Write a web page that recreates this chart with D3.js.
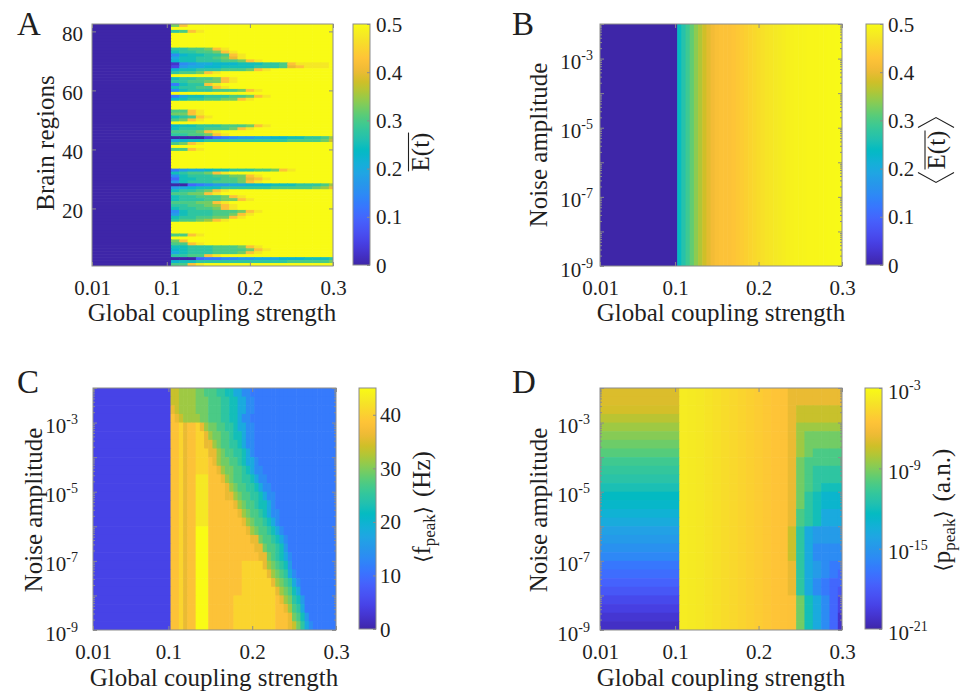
<!DOCTYPE html>
<html>
<head>
<meta charset="utf-8">
<script src="https://cdn.jsdelivr.net/npm/d3@7"></script>
<style>
  body { margin: 0; background: #fff; }
</style>
</head>
<body>
<script>
// ---------------- data ----------------

// coupling strength sample points (cell centres)
const couplingCoarse = [0.11, 0.12, 0.13, 0.14, 0.15, 0.16, 0.17, 0.18, 0.19, 0.20,
  0.21, 0.22, 0.23, 0.24, 0.25, 0.26, 0.27, 0.28, 0.29, 0.30];
const couplingFine = [0.105, 0.11, 0.115, 0.12, 0.125, 0.13, 0.135, 0.14, 0.145, 0.15,
  0.155, 0.16, 0.165, 0.17, 0.175, 0.18, 0.185, 0.19, 0.195, 0.2,
  0.205, 0.21, 0.215, 0.22, 0.225, 0.23, 0.235, 0.24, 0.245, 0.25,
  0.255, 0.26, 0.265, 0.27, 0.275, 0.28, 0.285, 0.29, 0.295, 0.3];

// log10(noise amplitude) row edges, top to bottom
const noiseEdges = [-2, -2.25, -2.5, -2.75, -3, -3.25, -3.5, -3.75, -4, -4.25, -4.5, -4.75,
  -5, -5.25, -5.5, -5.75, -6, -6.25, -6.5, -6.75, -7, -7.25, -7.5, -7.75,
  -8, -8.25, -8.5, -8.75, -9];

// levels: one char per cell, "0".."k" = 0..20 twentieths of the colour range;
// the last char of a string repeats to the end of the row.
// Below threshold (g < 0.1) every panel has one value per row.

// A: mean activity per brain region (region 82 at top ... region 1 at bottom)
const leftA = 0;
const regionRows = [
  "dhk", "k", "bchjk", "k", "k", "k", "k", "k",
  "bbccdhjk", "abbccdhjk", "69aabbchjk", "8aabbcdgjk", "9aabbbccdhjk",
  "16788999aaabbchjjjjk", "278899aaaabbbcghjjjk", "9aabbbcccdhjk",
  "bccdhjk", "k", "abbccdhjk", "bbccddhjk", "5abbhjk", "abbcchjk",
  "6abbbcccdhjk", "k", "58aabbbccdhjk", "9abbccddhjk", "k", "k", "k",
  "cchjk", "ddhjk", "abchjk", "cdhjk", "k", "9aabbbcccdhjk", "abbbcccdhjk",
  "cccdhjk", "bbccdhjk", "00002456778899aabbce", "89aabbbbbbbbbbccccdf",
  "cdhjk", "k", "cchjk", "k", "k", "k", "k", "k", "k",
  "57889aabbbccdhjk", "abccdhjk", "6abbbccddhjk", "4aabbbccdghjk",
  "7abbbcccdhjk", "004567788999aaabbbce", "789aaabbbbbbcccccdeg",
  "abbcdhjk", "ccddhjk", "abbcccdhjk", "abbbccddhjk", "cccddhjk",
  "bbccdehjk", "abbccdhjk", "6abbbcccdhjk", "7abbbccdhjk", "abbccddhjk",
  "bccdehjk", "k", "k", "k", "k", "cchjk", "k", "dhk", "cchjk",
  "aabbbcccdhjk", "9abbbccccdhjk", "8abbbcccdhjk", "bbcchjk",
  "0004556677888999aaab", "9aabbbbbbbbbbbcccccd", "cchjk"
];

// B: network mean activity per coupling (same for every noise amplitude)
const leftB = 0;
const meanEB = [0.24, 0.265, 0.29, 0.315, 0.34, 0.36, 0.38, 0.395, 0.41, 0.42,
  0.425, 0.425, 0.425, 0.43, 0.435, 0.44, 0.445, 0.45, 0.455, 0.46,
  0.465, 0.47, 0.473, 0.476, 0.479, 0.482, 0.485, 0.487, 0.489, 0.49,
  0.491, 0.492, 0.493, 0.494, 0.495, 0.495, 0.496, 0.496, 0.497, 0.497];

// C: peak frequency, rows top (1e-2) to bottom (1e-9), fine coupling grid
const leftC = "2222222222222222222222222222";
const fpeakRows = [
  "ffeeeeddcccbbaa88665",
  "ffeeeedddcccbbaa88665",
  "gfeeeedddcccbbaa88665",
  "hgfeeeeddcccbbaa8665",
  "hhighhigeddccbba88665",
  "hhighhiigeddccbaa8665",
  "hhighhiiggedccbba8665",
  "hhighhiiiggedccbba865",
  "hhighhiiihgeddccba8865",
  "hhighhiiihhgeddccba8665",
  "hhighhjjjhhhgedccbba8665",
  "hhighhjjjhhhhgedccbba8665",
  "hhighhjjjhhhhggedccbba8665",
  "hhighhjjjhhhhhhgedccbaa865",
  "hhighhjjjhhhhhhhgedccba8665",
  "hhighhjjjhhhhhhhhgedccba865",
  "hhighhkkkhhhhhhhhhgedccba865",
  "hhighhkkkhhhhhhhhhhggdccba865",
  "hhighhkkkhhhhhhhhhhhggdccba75",
  "hhighhkkkhhhhhhhhhhhhggdcba865",
  "hhighhkkkhhhhhhhhiiiiigedcba75",
  "hhighhkkkhhhhhhhhiiiiiigedcb865",
  "hhighhkkkhhhhhhhhiiiiiiigedcb865",
  "hhighhkkkhhhhhhhhiiiiiiiigedca85",
  "hhighhkkkhhhhhhiiiiiiiiiihgedba75",
  "hhighhkkkhhhhhhiiiiiiiiiihhgecb85",
  "hhighhkkkhhhhhhiiiiiiiiiihhhgdca75",
  "hhighhkkkhhhhhhiiiiiiiiiihhhgfdb865"
];

// D: peak power, log10 values. Below threshold, one value per noise row (top to bottom)
const ppeakLeft = [-7.0, -7.0, -7.2, -7.8, -8.4, -8.9, -9.4, -9.9, -10.5, -10.9, -11.3, -11.8,
  -12.4, -12.7, -13.2, -13.7, -14.4, -14.8, -15.3, -15.8, -16.6, -17.1, -17.6, -18.2,
  -18.9, -19.4, -19.9, -20.3];
// oscillating range 0.11 .. 0.23: same for all noise amplitudes
const ppeakMid = [-3.72, -3.81, -3.9, -4.08, -4.26, -4.44, -4.62, -4.8, -4.98, -5.16,
  -5.34, -5.52, -5.61];
// 0.24 .. 0.30, level chars per noise row (top to bottom)
const ppeakRight = [
  "ggggggg", "ggggggg", "gffffff", "gffffff", "geeeeee", "geddddd", "geddddd",
  "gedcccc", "gdccccc", "gdcbbbb", "gdcbbbb", "gdcbaaa", "gdba999", "gdba999",
  "gcba888", "gcba888", "fb87777", "fb87777", "fb86666", "fb86666", "gb87655",
  "gb87654", "gb86544", "gb86543", "hda8642", "hda8642", "hda8641", "hda8641"
];

// tick labels
const couplingTicks = [0.01, 0.1, 0.2, 0.3];
const regionTicks = [20, 40, 60, 80];
const noiseLabelTicks = [1e-9, 1e-7, 1e-5, 1e-3];
const cbTicksE = [0, 0.1, 0.2, 0.3, 0.4, 0.5];
const cbTicksF = [0, 10, 20, 30, 40];
const cbTicksP = [1e-21, 1e-15, 1e-9, 1e-3];

// MATLAB parula, evenly spaced stops
const parulaStops = ["#3e26a8", "#4432cb", "#4741e5", "#4852f4", "#4563fd", "#3875fe",
  "#2e87f7", "#2796eb", "#20a5e3", "#12b1d6", "#02bac3", "#24c1ae", "#37c897",
  "#57cc7a", "#81cc59", "#abc739", "#d1bf27", "#f0ba36", "#fec338", "#fad62d",
  "#f5e924", "#f9fb15"];

// ---------------- drawing ----------------
const SERIF = '"Liberation Serif", "Times New Roman", serif';
const AX = "#8c8c8c", TXT = "#1f1f1f";
const parula = d3.piecewise(d3.interpolateRgb, parulaStops);
const LEVELS = "0123456789abcdefghijk";
const level = ch => LEVELS.indexOf(ch) / 20;
const at = (s, j) => s[Math.min(j, s.length - 1)];

const svg = d3.select("body").append("svg")
  .attr("width", 964).attr("height", 692)
  .style("font-family", SERIF);
const defs = svg.append("defs");

function colSpans(centres) {
  const step = centres[1] - centres[0];
  return centres.map(c => [Math.max(0.01, c - step / 2), Math.min(0.3, c + step / 2)]);
}

// build cell lists
const colsC = colSpans(couplingCoarse), colsF = colSpans(couplingFine);

const cellsA = [];
regionRows.forEach((s, i) => {
  const r = 82 - i;
  cellsA.push({ x0: 0.01, x1: colsC[0][0], y0: r - 0.5, y1: r + 0.5, v: leftA });
  colsC.forEach(([x0, x1], j) => cellsA.push({ x0, x1, y0: r - 0.5, y1: r + 0.5, v: 0.5 * level(at(s, j)) }));
});

const cellsB = [{ x0: 0.01, x1: colsF[0][0], y0: 1e-9, y1: 1e-2, v: leftB }];
colsF.forEach(([x0, x1], j) => cellsB.push({ x0, x1, y0: 1e-9, y1: 1e-2, v: meanEB[j] }));

const cellsC = [];
fpeakRows.forEach((s, i) => {
  const y1 = Math.pow(10, noiseEdges[i]), y0 = Math.pow(10, noiseEdges[i + 1]);
  cellsC.push({ x0: 0.01, x1: colsF[0][0], y0, y1, v: 45 * level(leftC[i]) });
  colsF.forEach(([x0, x1], j) => cellsC.push({ x0, x1, y0, y1, v: 45 * level(at(s, j)) }));
});

const cellsD = [];
ppeakRight.forEach((s, i) => {
  const y1 = Math.pow(10, noiseEdges[i]), y0 = Math.pow(10, noiseEdges[i + 1]);
  cellsD.push({ x0: 0.01, x1: colsC[0][0], y0, y1, v: Math.pow(10, ppeakLeft[i]) });
  colsC.forEach(([x0, x1], j) => {
    const e = j < ppeakMid.length ? ppeakMid[j] : -21 + 18 * level(at(s, j - ppeakMid.length));
    cellsD.push({ x0, x1, y0, y1, v: Math.pow(10, e) });
  });
});

function styleAxis(g) {
  g.attr("font-family", null).attr("font-size", null);
  g.select(".domain").remove();
  g.selectAll(".tick line").attr("stroke", AX);
  g.selectAll(".tick text").attr("fill", TXT).attr("font-size", 21);
}

function powLabels(g, dy) {
  g.selectAll(".tick text").each(function (d) {
    const t = d3.select(this).text(null).attr("dy", dy);
    t.append("tspan").text("10");
    t.append("tspan").attr("font-size", 14).attr("dy", -9).text(Math.round(Math.log10(d)));
  });
}

function panel(o) {
  const g = svg.append("g").attr("transform", `translate(${o.left},${o.top})`);
  const x = d3.scaleLinear().domain([0.01, 0.3]).range([0, o.w]);
  const y = o.y.range([o.h, 0]);
  const c = o.cscale.copy().range([0, 1]).clamp(true);

  defs.append("clipPath").attr("id", "clip" + o.name)
    .append("rect").attr("width", o.w).attr("height", o.h);
  g.append("g").attr("clip-path", `url(#clip${o.name})`)
    .selectAll("rect").data(o.cells).join("rect")
    .attr("x", d => x(d.x0))
    .attr("width", d => x(d.x1) - x(d.x0) + 0.6)
    .attr("y", d => y(d.y1))
    .attr("height", d => y(d.y0) - y(d.y1) + 0.6)
    .attr("fill", d => parula(c(d.v)));

  // x axes (bottom labelled, top mirrored)
  g.append("g").attr("transform", `translate(0,${o.h})`)
    .call(d3.axisBottom(x).tickValues(couplingTicks).tickSizeInner(-4).tickSizeOuter(0)
      .tickPadding(14).tickFormat(d => d === 0.01 ? "0.01" : d3.format(".1f")(d)))
    .call(styleAxis);
  g.append("g")
    .call(d3.axisTop(x).tickValues(couplingTicks).tickSizeInner(-4).tickSizeOuter(0).tickFormat(""))
    .call(styleAxis);

  // y axes
  if (o.log) {
    const major = d3.range(-9, -1).map(e => Math.pow(10, e));
    const minor = [];
    d3.range(-9, -2).forEach(e => d3.range(2, 10).forEach(k => minor.push(k * Math.pow(10, e))));
    g.append("g")
      .call(d3.axisLeft(y).tickValues(noiseLabelTicks).tickSizeInner(0).tickSizeOuter(0).tickPadding(o.ypad))
      .call(styleAxis).call(g2 => powLabels(g2, 10));
    [[0, d3.axisLeft], [o.w, d3.axisRight]].forEach(([tx, ax]) => {
      g.append("g").attr("transform", `translate(${tx},0)`)
        .call(ax(y).tickValues(major).tickSizeInner(-4).tickSizeOuter(0).tickFormat(""))
        .call(styleAxis);
      g.append("g").attr("transform", `translate(${tx},0)`)
        .call(ax(y).tickValues(minor).tickSizeInner(-2).tickSizeOuter(0).tickFormat(""))
        .call(styleAxis);
    });
  } else {
    g.append("g")
      .call(d3.axisLeft(y).tickValues(regionTicks).tickSizeInner(-4).tickSizeOuter(0).tickPadding(o.ypad))
      .call(styleAxis).call(g2 => g2.selectAll(".tick text").attr("dy", 9));
    g.append("g").attr("transform", `translate(${o.w},0)`)
      .call(d3.axisRight(y).tickValues(regionTicks).tickSizeInner(-4).tickSizeOuter(0).tickFormat(""))
      .call(styleAxis);
  }

  g.append("rect").attr("width", o.w).attr("height", o.h)
    .attr("fill", "none").attr("stroke", AX).attr("stroke-width", 1);

  // colour bar
  const gid = "grad" + o.name;
  const grad = defs.append("linearGradient").attr("id", gid)
    .attr("x1", 0).attr("y1", 1).attr("x2", 0).attr("y2", 0);
  d3.range(0, 1.0001, 0.02).forEach(t => grad.append("stop").attr("offset", t).attr("stop-color", parula(t)));
  const cb = svg.append("g").attr("transform", `translate(${o.cbx},${o.top})`);
  cb.append("rect").attr("width", 17).attr("height", o.cbh).attr("fill", `url(#${gid})`)
    .attr("stroke", AX).attr("stroke-width", 1);
  const cy = o.cscale.copy().range([o.cbh, 0]);
  const cax = cb.append("g").attr("transform", "translate(17,0)")
    .call(d3.axisRight(cy).tickValues(o.cbTicks).tickSizeInner(-3).tickSizeOuter(0)
      .tickPadding(o.cbpad).tickFormat(d => String(d)))
    .call(styleAxis);
  if (o.cbLog) powLabels(cax, 10); else cax.selectAll(".tick text").attr("dy", 7);

  // texts
  svg.append("text").attr("x", o.letter[0]).attr("y", o.letter[1])
    .attr("font-size", 33).attr("fill", TXT).text(o.name);
  svg.append("text").attr("transform", `translate(${o.ytitle[0]},${o.ytitle[1]}) rotate(-90)`)
    .attr("text-anchor", "middle").attr("font-size", 25).attr("fill", TXT).text(o.ylab);
  svg.append("text").attr("x", o.xtitle[0]).attr("y", o.xtitle[1])
    .attr("text-anchor", "middle").attr("font-size", 25).attr("fill", TXT).text("Global coupling strength");

  const lab = svg.append("g").attr("transform", `translate(${o.cblab[0]},${o.cblab[1]}) rotate(-90)`);
  o.drawLabel(lab);
}

function overlineE(g, brackets) {
  const t = g.append("text").attr("text-anchor", "middle").attr("font-size", 25).attr("fill", TXT).text("E(t)");
  const hw = t.node().getComputedTextLength() / 2;
  g.append("line").attr("x1", -hw).attr("x2", hw).attr("y1", -20).attr("y2", -20)
    .attr("stroke", TXT).attr("stroke-width", 1.1);
  if (brackets) {
    const br = s => [[s * (hw + 3), -27], [s * (hw + 13), -9], [s * (hw + 3), 9]];
    [-1, 1].forEach(s => g.append("polyline").attr("points", br(s).join(" "))
      .attr("fill", "none").attr("stroke", TXT).attr("stroke-width", 1.1));
  }
}

function peakLabel(g, sym, unit) {
  const t = g.append("text").attr("text-anchor", "middle").attr("font-size", 25).attr("fill", TXT);
  t.append("tspan").attr("font-family", "DejaVu Serif, DejaVu Sans").attr("font-size", 21).text("\u27E8");
  t.append("tspan").text(sym);
  t.append("tspan").attr("font-size", 17).attr("dy", 5).text("peak");
  t.append("tspan").attr("font-family", "DejaVu Serif, DejaVu Sans").attr("font-size", 21).attr("dy", -5).text("\u27E9");
  t.append("tspan").attr("dx", 9).text(unit);
}

panel({
  name: "A", left: 92, top: 24, w: 241, h: 242, cells: cellsA,
  y: d3.scaleLinear().domain([0.5, 82.5]), log: false, ypad: 9,
  cscale: d3.scaleLinear().domain([0, 0.5]), cbx: 353, cbh: 241, cbTicks: cbTicksE, cbpad: 6,
  letter: [17, 35], ytitle: [53.5, 143], ylab: "Brain regions", xtitle: [212, 321],
  cblab: [428.5, 152], drawLabel: g => overlineE(g, false)
});
panel({
  name: "B", left: 600, top: 24, w: 242, h: 242, cells: cellsB,
  y: d3.scaleLog().domain([1e-9, 1e-2]), log: true, ypad: 7,
  cscale: d3.scaleLinear().domain([0, 0.5]), cbx: 866, cbh: 241, cbTicks: cbTicksE, cbpad: 5,
  letter: [512, 35], ytitle: [546.5, 145], ylab: "Noise amplitude", xtitle: [721, 321],
  cblab: [945, 150], drawLabel: g => overlineE(g, true)
});
panel({
  name: "C", left: 93, top: 388, w: 243, h: 242, cells: cellsC,
  y: d3.scaleLog().domain([1e-9, 1e-2]), log: true, ypad: 15,
  cscale: d3.scaleLinear().domain([0, 45]), cbx: 359, cbh: 241, cbTicks: cbTicksF, cbpad: 4,
  letter: [17, 393], ytitle: [41.5, 510], ylab: "Noise amplitude", xtitle: [214, 686],
  cblab: [430, 507], drawLabel: g => peakLabel(g, "f", "(Hz)")
});
panel({
  name: "D", left: 600, top: 388, w: 242, h: 242, cells: cellsD,
  y: d3.scaleLog().domain([1e-9, 1e-2]), log: true, ypad: 10,
  cscale: d3.scaleLog().domain([1e-21, 1e-3]), cbLog: true, cbx: 865, cbh: 241, cbTicks: cbTicksP, cbpad: 6,
  letter: [512, 393], ytitle: [546.5, 510], ylab: "Noise amplitude", xtitle: [721, 686],
  cblab: [950, 510], drawLabel: g => peakLabel(g, "p", "(a.n.)")
});
</script>
</body>
</html>
